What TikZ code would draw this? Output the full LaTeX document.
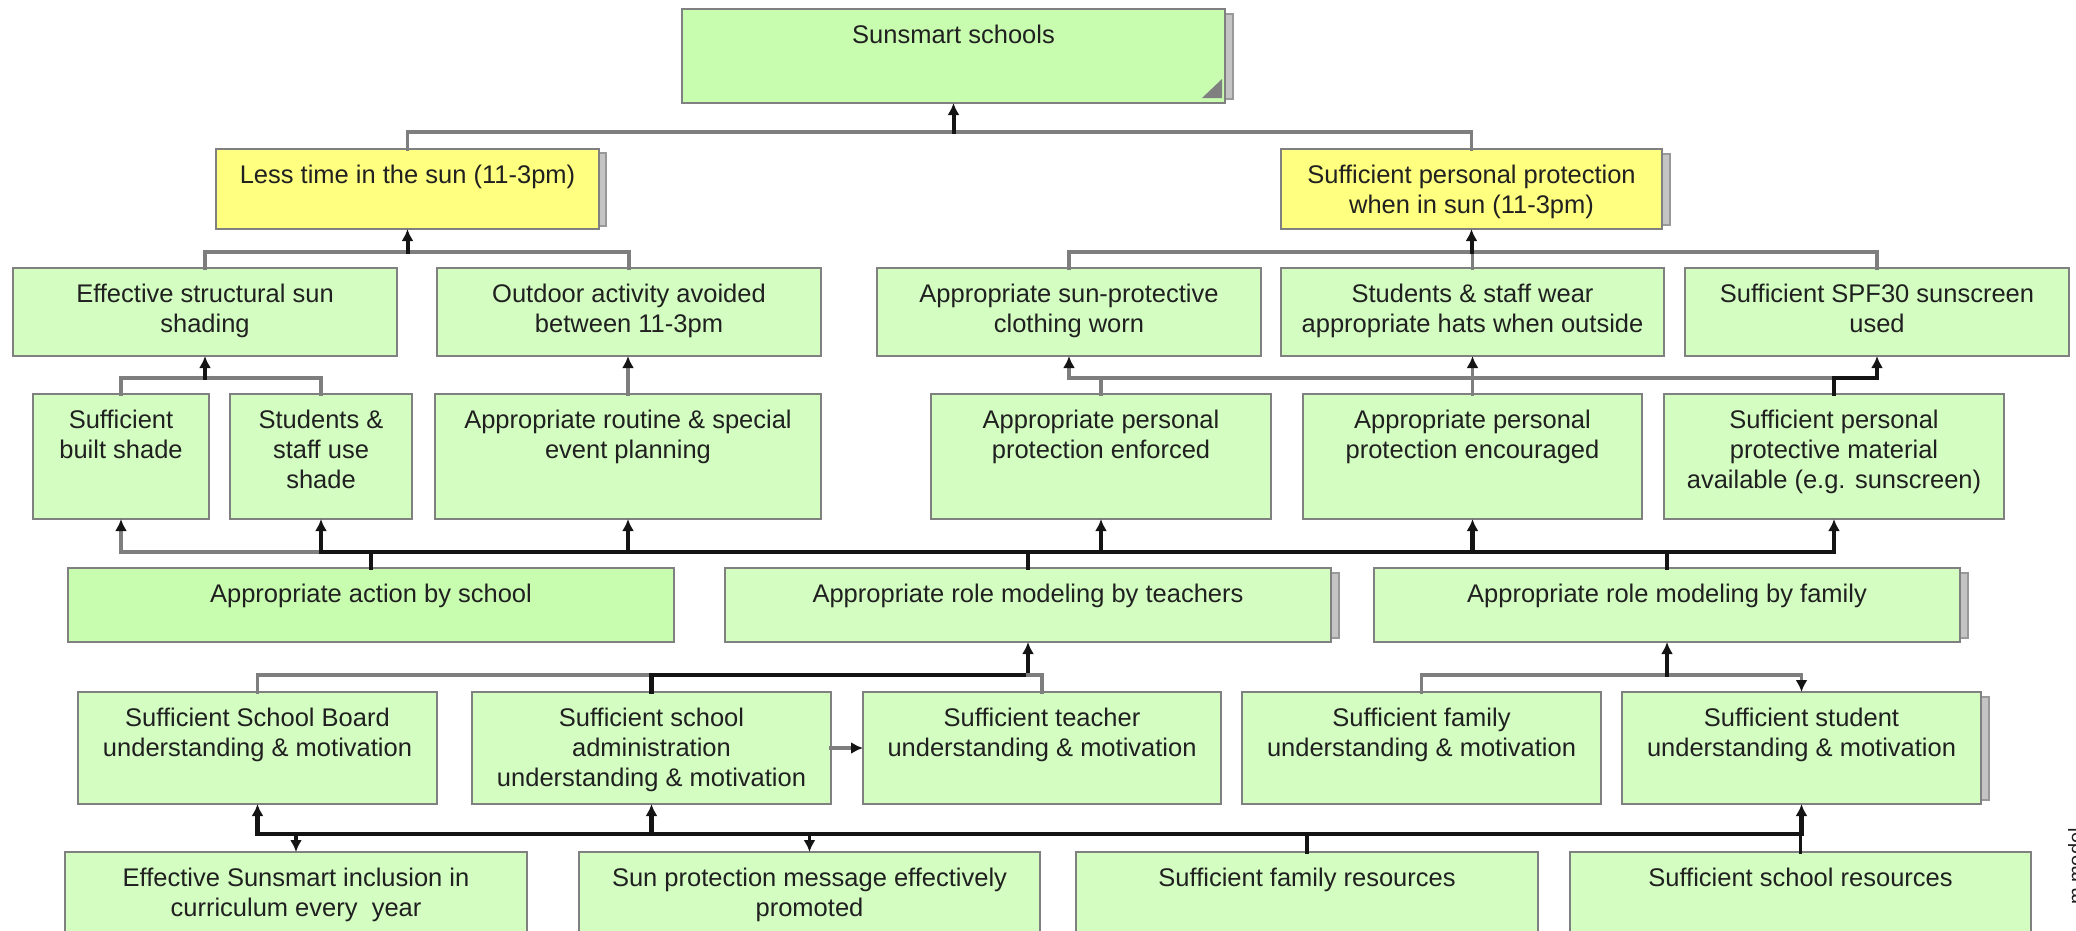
\documentclass[tikz,border=0pt]{standalone}
\usepackage{fontspec}
\setmainfont{Liberation Sans}
\usetikzlibrary{arrows.meta,backgrounds}
\definecolor{gfill}{HTML}{D3FDC1}
\definecolor{gfill2}{HTML}{C8FDB0}
\definecolor{yfill}{HTML}{FFFF80}
\definecolor{bord}{HTML}{808080}
\definecolor{glin}{HTML}{7E7E7E}
\definecolor{blin}{HTML}{141414}
\definecolor{txtc}{HTML}{202020}
\definecolor{shad}{HTML}{C4C4C4}
\begin{document}
\begin{tikzpicture}[x=1pt,y=-1pt,
  box/.style 2 args={draw=bord,line width=2.5pt,fill=gfill,minimum width=#1pt,minimum height=#2pt,inner sep=0pt,outer sep=0pt},
  lbl/.style={anchor=north,yshift=-16pt,inner sep=0pt,align=center,font=\fontsize{25.5}{30}\selectfont,text=txtc},
  gl/.style={draw=glin,line width=3.5pt,line cap=rect},
  bl/.style={draw=blin,line width=4.5pt,line cap=rect},
  tip/.style={-{Latex[length=12pt,width=12pt,color=blin]}},
  shd/.style={draw=bord!80,line width=1.5pt,fill=shad}
]
\useasboundingbox (0,0) rectangle (2076,930);
\clip (0,0) rectangle (2076,930);
% row 0
\node[box={543}{94},fill=gfill2,label={[lbl]north:Sunsmart schools}] (sun) at (953.5,56) {};
% row 1
\node[box={383}{80},fill=yfill,label={[lbl]north:Less time in the sun (11-3pm)}] (less) at (407.5,189) {};
\node[box={381}{80},fill=yfill,label={[lbl]north:{Sufficient personal protection\\when in sun (11-3pm)}}] (pers) at (1471.5,189) {};
% row 2
\node[box={384}{88},label={[lbl]north:{Effective structural sun\\shading}}] (eff) at (205,312) {};
\node[box={384}{88},label={[lbl]north:{Outdoor activity avoided\\between 11-3pm}}] (out) at (629,312) {};
\node[box={384}{88},label={[lbl]north:{Appropriate sun-protective\\clothing worn}}] (cloth) at (1069,312) {};
\node[box={383}{88},label={[lbl]north:{Students \& staff wear\\appropriate hats when outside}}] (hats) at (1472.5,312) {};
\node[box={384}{88},label={[lbl]north:{Sufficient SPF30 sunscreen\\used}}] (spf) at (1877,312) {};
% row 3
\node[box={176}{125},label={[lbl]north:{Sufficient\\built shade}}] (built) at (121,456.5) {};
\node[box={182}{125},label={[lbl]north:{Students \&\\staff use\\shade}}] (use) at (321,456.5) {};
\node[box={386}{125},label={[lbl]north:{Appropriate routine \& special\\event planning}}] (rout) at (628,456.5) {};
\node[box={340}{125},label={[lbl]north:{Appropriate personal\\protection enforced}}] (enf) at (1101,456.5) {};
\node[box={339}{125},label={[lbl]north:{Appropriate personal\\protection encouraged}}] (enc) at (1472.5,456.5) {};
\node[box={340}{125},label={[lbl]north:{Sufficient personal\\protective material\\available (e.g. sunscreen)}}] (mat) at (1834,456.5) {};
% row 4
\node[box={606}{74},fill=gfill2,label={[lbl]north:Appropriate action by school}] (act) at (371,605) {};
\node[box={606}{74},label={[lbl]north:Appropriate role modeling by teachers}] (teach) at (1028,605) {};
\node[box={586}{74},label={[lbl]north:Appropriate role modeling by family}] (fam) at (1667,605) {};
% row 5
\node[box={359}{112},label={[lbl]north:{Sufficient School Board\\understanding \& motivation}}] (board) at (257.5,748) {};
\node[box={359}{112},label={[lbl]north:{Sufficient school\\administration\\understanding \& motivation}}] (admin) at (651.5,748) {};
\node[box={358}{112},label={[lbl]north:{Sufficient teacher\\understanding \& motivation}}] (tund) at (1042,748) {};
\node[box={359}{112},label={[lbl]north:{Sufficient family\\understanding \& motivation}}] (fund) at (1421.5,748) {};
\node[box={359}{112},label={[lbl]north:{Sufficient student\\understanding \& motivation}}] (sund) at (1801.5,748) {};
% row 6
\node[box={462}{112},label={[lbl]north:{Effective Sunsmart inclusion in\\curriculum every\ \ year}}] (curr) at (296,908) {};
\node[box={461}{112},label={[lbl]north:{Sun protection message effectively\\promoted}}] (msg) at (809.5,908) {};
\node[box={462}{112},label={[lbl]north:Sufficient family resources}] (fres) at (1307,908) {};
\node[box={461}{112},label={[lbl]north:Sufficient school resources}] (sres) at (1800.5,908) {};
% side text
\node[rotate=90,anchor=north east,inner sep=0pt,font=\fontsize{20}{22}\selectfont,text=txtc] (vt) at (2068,828) {m model};
% shadows
\begin{scope}[on background layer]
\foreach \n in {sun,pers,teach,fam,sund}
  \draw[shd] ([yshift=-5pt]\n.north east) rectangle ([xshift=8pt,yshift=4pt]\n.south east);
\draw[shd] ([yshift=-4pt]less.north east) rectangle ([xshift=7pt,yshift=3pt]less.south east);
\end{scope}
\fill[bord] ([xshift=-23pt,yshift=5pt]sun.south east) -- ([xshift=-3pt,yshift=5pt]sun.south east) -- ([xshift=-3pt,yshift=24pt]sun.south east) -- cycle;
% level 1
\coordinate (j1) at (953.5,132);
\draw[gl] (less.north) |- (j1) -| (pers.north);
\draw[bl,line width=4pt,tip] (j1) -- (sun.south);
% level 2
\coordinate (j2) at (407.5,252);
\draw[gl] (eff.north) |- (j2) -| (out.north);
\draw[bl,line width=4pt,tip] (j2) -- (less.south);
\coordinate (j3) at (1471.5,252);
\draw[gl] (cloth.north) |- (j3) -| (spf.north);
\draw[gl] (hats.north) -- (hats.north |- j3);
\draw[bl,line width=4pt,tip] (j3) -- (pers.south);
% level 3
\coordinate (j4) at (205,378);
\draw[gl] (built.north) |- (j4) -| (use.north);
\draw[bl,line width=4pt,tip] (j4) -- (eff.south);
\draw[gl,tip] (rout.north) -- (rout.north |- out.south);
\coordinate (k1) at (1069,378);
\coordinate (k2) at (1834,378);
\draw[gl,tip] (enf.north) |- (k1) -- (cloth.south);
\draw[gl] (k1) -- (k2);
\draw[gl,tip] (enc.north) -- (enc.north |- hats.south);
\draw[bl,tip] (mat.north) |- (spf.south |- k2) -- (spf.south);
% level 4
\coordinate (m1) at (321,552);
\coordinate (m2) at (1834,552);
\draw[gl,tip] (m1) -| (built.south);
\draw[bl] (m1) -- (m2);
\draw[bl,tip] (m1) -- (use.south);
\draw[bl,tip] (rout.south |- m1) -- (rout.south);
\draw[bl,tip] (enf.south |- m1) -- (enf.south);
\draw[bl,tip] (enc.south |- m1) -- (enc.south);
\draw[bl,tip] (m2) -- (mat.south);
\draw[bl] (act.north) -- (act.north |- m1);
\draw[bl] (teach.north) -- (teach.north |- m1);
\draw[bl] (fam.north) -- (fam.north |- m1);
% level 5
\coordinate (n1) at (1028,675);
\draw[gl] (board.north) |- (admin.north |- n1);
\draw[bl] (admin.north) |- (n1);
\draw[bl,tip] (n1) -- (teach.south);
\draw[gl] (n1) -| (tund.north);
\draw[gl,tip] (admin.east) -- (tund.west);
\coordinate (p1) at (1667,675);
\draw[gl] (fund.north) |- (p1);
\draw[gl,tip] (p1) -| (sund.north);
\draw[bl,line width=4pt,tip] (p1) -- (fam.south);
% level 6
\coordinate (q1) at (257.5,834);
\coordinate (q2) at (1801.5,834);
\draw[bl] (q1) -- (q2);
\draw[bl,tip] (q1) -- (board.south);
\draw[bl,tip] (admin.south |- q1) -- (admin.south);
\draw[bl,tip] (q2) -- (sund.south);
\draw[bl,line width=3.5pt,tip] (curr.north |- q1) -- (curr.north);
\draw[bl,line width=3.5pt,tip] (msg.north |- q1) -- (msg.north);
\draw[bl,line width=3.5pt] (fres.north) -- (fres.north |- q1);
\draw[bl,line width=3.5pt] (sres.north) -- (sres.north |- q1);
\end{tikzpicture}
\end{document}
